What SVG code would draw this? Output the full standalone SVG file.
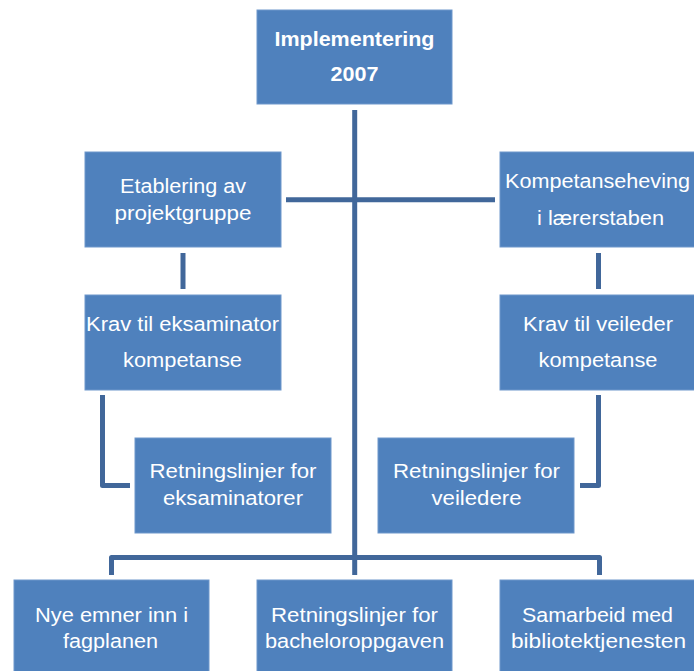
<svg xmlns="http://www.w3.org/2000/svg" width="694" height="671" viewBox="0 0 694 671">
<style>
.box{fill:#4F81BD;stroke:#6E97CB;stroke-width:1}
.t{font-family:"Liberation Sans",Arial,sans-serif;font-size:20px;fill:#FFFFFF;text-anchor:middle}
.b{font-weight:bold}
.c{fill:none;stroke:#41679A;stroke-width:5;stroke-linejoin:round}
</style>
<rect width="694" height="671" fill="#FFFFFF"/>
<g id="connectors">
<line class="c" x1="354.7" y1="110" x2="354.7" y2="575"/>
<line class="c" x1="286" y1="199.7" x2="495" y2="199.7"/>
<line class="c" x1="183" y1="253" x2="183" y2="289"/>
<line class="c" x1="598.5" y1="253" x2="598.5" y2="289"/>
<polyline class="c" points="102.5,395 102.5,485.5 130,485.5"/>
<polyline class="c" points="598.5,395 598.5,485.5 580,485.5"/>
<polyline class="c" points="111.5,575 111.5,557.5 599.5,557.5 599.5,575"/>
</g>
<g id="n-implementering">
<rect class="box" x="257" y="10" width="195" height="94"/>
<text class="t b" x="354.5" y="46" textLength="160" lengthAdjust="spacingAndGlyphs">Implementering</text>
<text class="t b" x="354.5" y="81" textLength="48" lengthAdjust="spacingAndGlyphs">2007</text>
</g>
<g id="n-etablering">
<rect class="box" x="85" y="152" width="196" height="95"/>
<text class="t" x="183" y="193" textLength="126" lengthAdjust="spacingAndGlyphs">Etablering av</text>
<text class="t" x="183" y="220" textLength="137" lengthAdjust="spacingAndGlyphs">projektgruppe</text>
</g>
<g id="n-kompetanseheving">
<rect class="box" x="500" y="152" width="196" height="95"/>
<text class="t" x="597.5" y="188" textLength="185" lengthAdjust="spacingAndGlyphs">Kompetanseheving</text>
<text class="t" x="600.5" y="225" textLength="127" lengthAdjust="spacingAndGlyphs">i lærerstaben</text>
</g>
<g id="n-krav-eksaminator">
<rect class="box" x="85" y="295" width="196" height="95"/>
<text class="t" x="182.5" y="331" textLength="193" lengthAdjust="spacingAndGlyphs">Krav til eksaminator</text>
<text class="t" x="182.5" y="367" textLength="119" lengthAdjust="spacingAndGlyphs">kompetanse</text>
</g>
<g id="n-krav-veileder">
<rect class="box" x="500" y="295" width="196" height="95"/>
<text class="t" x="598" y="331" textLength="150" lengthAdjust="spacingAndGlyphs">Krav til veileder</text>
<text class="t" x="598" y="367" textLength="119" lengthAdjust="spacingAndGlyphs">kompetanse</text>
</g>
<g id="n-retn-eksaminatorer">
<rect class="box" x="135" y="438" width="196" height="95"/>
<text class="t" x="233" y="478" textLength="167" lengthAdjust="spacingAndGlyphs">Retningslinjer for</text>
<text class="t" x="233" y="505" textLength="140" lengthAdjust="spacingAndGlyphs">eksaminatorer</text>
</g>
<g id="n-retn-veiledere">
<rect class="box" x="378" y="438" width="196" height="95"/>
<text class="t" x="476.5" y="478" textLength="167" lengthAdjust="spacingAndGlyphs">Retningslinjer for</text>
<text class="t" x="476.5" y="505" textLength="90" lengthAdjust="spacingAndGlyphs">veiledere</text>
</g>
<g id="n-nye-emner">
<rect class="box" x="14" y="580" width="195" height="95"/>
<text class="t" x="111.5" y="622" textLength="153" lengthAdjust="spacingAndGlyphs">Nye emner inn i</text>
<text class="t" x="110.5" y="648" textLength="95" lengthAdjust="spacingAndGlyphs">fagplanen</text>
</g>
<g id="n-retn-bachelor">
<rect class="box" x="257" y="580" width="195" height="95"/>
<text class="t" x="354.5" y="622" textLength="167" lengthAdjust="spacingAndGlyphs">Retningslinjer for</text>
<text class="t" x="354.5" y="648" textLength="179" lengthAdjust="spacingAndGlyphs">bacheloroppgaven</text>
</g>
<g id="n-samarbeid">
<rect class="box" x="500" y="580" width="196" height="95"/>
<text class="t" x="597.5" y="622" textLength="151" lengthAdjust="spacingAndGlyphs">Samarbeid med</text>
<text class="t" x="598.5" y="648" textLength="175" lengthAdjust="spacingAndGlyphs">bibliotektjenesten</text>
</g>
</svg>
